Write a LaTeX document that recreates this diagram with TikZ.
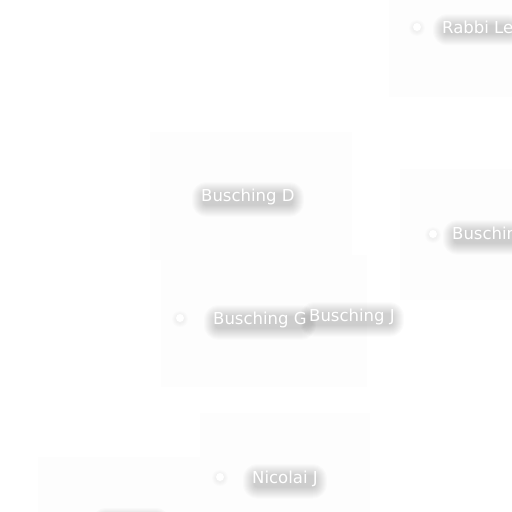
\documentclass[tikz,border=0pt]{standalone}
\usepackage{fontspec}
\setmainfont{DejaVu Sans}
\pgfdeclarelayer{bg}
\pgfsetlayers{bg,main}
\newcommand{\txtshadow}[1]{%
  \foreach \r in {0,1,...,11}{%
    \fill[black,opacity=0.015,rounded corners=\r pt+3pt]
      ([xshift=-\r pt+2pt,yshift=\r pt-5pt]#1.north west) rectangle
      ([xshift=\r pt-2pt,yshift=-\r pt-1pt]#1.south east);}}
\newcommand{\dotshadow}[1]{%
  \foreach \r in {5,6,7,8}{%
    \fill[black,opacity=0.01] ([yshift=-1pt]#1.center) circle (\r pt);}}
\begin{document}
\begin{tikzpicture}[x=1pt,y=-1pt,
  panel/.style={fill=black!0.7,draw=none},
  lbl/.style={anchor=base west,text=white,inner sep=0pt,
    font=\fontsize{16.5}{19}\selectfont},
  dot/.style={circle,fill=white,draw=none,minimum size=8pt,inner sep=0pt}]
\useasboundingbox (0,0) rectangle (512,512);
% nodes
\node[dot] (rabbidot) at (417,27) {};
\node[dot] (buschdot) at (433,234) {};
\node[dot] (gdot) at (180,318) {};
\node[dot] (ndot) at (220,477) {};
% labels
\node[lbl] (rabbi) at (442,33) {Rabbi Le};
\node[lbl] (buschD) at (201,201) {Busching D};
\node[lbl] (buschR) at (452,239) {Busching};
\node[lbl] (buschG) at (213,324) {Busching G};
\node[lbl] (buschJ) at (309,321) {Busching J};
\node[lbl] (nicolai) at (252,483) {Nicolai J};
\coordinate (hidnw) at (103,519);
\coordinate (hidse) at (159,532);
\begin{pgfonlayer}{bg}
\fill[white] (0,0) rectangle (512,512);
\fill[panel] (150,132) rectangle (352,260);
\fill[panel] (161,255) rectangle (367,387);
\fill[panel] (389,0) rectangle (512,97);
\fill[panel] (400,169) rectangle (512,300);
\fill[panel] (38,457) rectangle (200,512);
\fill[panel] (200,413) rectangle (370,512);
\foreach \n in {rabbi,buschD,buschR,buschG,buschJ,nicolai}{\txtshadow{\n}}
\foreach \n in {rabbidot,buschdot,gdot,ndot}{\dotshadow{\n}}
\foreach \r in {0,1,...,11}{%
  \fill[black,opacity=0.015,rounded corners=\r pt+3pt]
    ([xshift=-\r pt,yshift=\r pt]hidnw) rectangle ([xshift=\r pt,yshift=-\r pt]hidse);}
\end{pgfonlayer}
\end{tikzpicture}
\end{document}
